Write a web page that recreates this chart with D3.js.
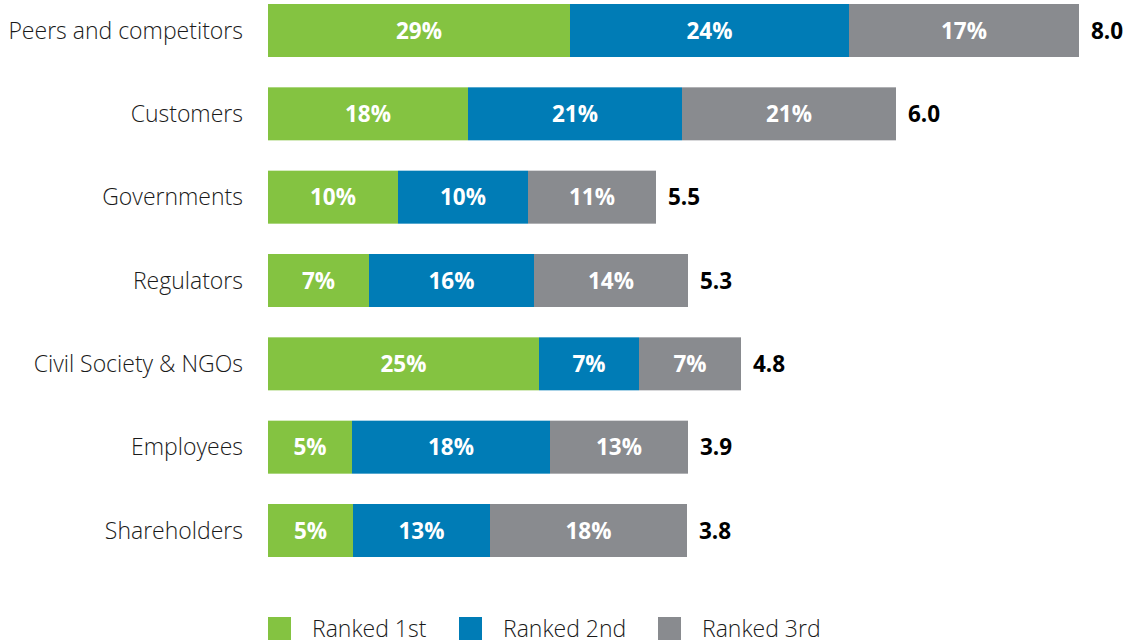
<!DOCTYPE html>
<html>
<head>
<meta charset="utf-8">
<script src="https://cdn.jsdelivr.net/npm/d3@7"></script>
<style>
  html, body { margin: 0; padding: 0; background: #fff; }
  svg { display: block; font-family: "Open Sans", "Noto Sans", sans-serif; }
</style>
</head>
<body>
<svg id="chart" width="1135" height="644"></svg>
<script>
// ---- data ----
const categories = ["Peers and competitors", "Customers", "Governments", "Regulators", "Civil Society & NGOs", "Employees", "Shareholders"];
const seriesNames = ["Ranked 1st", "Ranked 2nd", "Ranked 3rd"];
// displayed percentage labels
const ranked1stPct = [29, 18, 10, 7, 25, 5, 5];
const ranked2ndPct = [24, 21, 10, 16, 7, 18, 13];
const ranked3rdPct = [17, 21, 11, 14, 7, 13, 18];
// segment lengths as drawn in the reference (chart units)
const ranked1stLen = [30.2, 20.0, 13.0, 10.1, 27.1, 8.4, 8.5];
const ranked2ndLen = [27.9, 21.4, 13.0, 16.5, 10.0, 19.8, 13.7];
const ranked3rdLen = [23.0, 21.4, 12.8, 15.4, 10.2, 13.8, 19.7];
// overall score
const scores = [8.0, 6.0, 5.5, 5.3, 4.8, 3.9, 3.8];
const colors = ["#84c341", "#007cb6", "#898b8f"];

// ---- build ----
const rows = categories.map((c, i) => ({
  cat: c,
  lens: [ranked1stLen[i], ranked2ndLen[i], ranked3rdLen[i]],
  pcts: [ranked1stPct[i], ranked2ndPct[i], ranked3rdPct[i]],
  score: scores[i]
}));

const svg = d3.select("#chart");
const x = d3.scaleLinear().domain([0, 100]).range([268, 1268]);
const y = d3.scaleBand().domain(categories).range([4, 557]).paddingInner(0.364).paddingOuter(0);

const g = svg.append("g");

rows.forEach(r => {
  let acc = 0;
  r.segs = r.lens.map((l, k) => {
    const s = { x0: acc, x1: acc + l, pct: r.pcts[k], k };
    acc += l;
    return s;
  });
  r.total = acc;
});

const rowG = g.selectAll("g.row").data(rows).join("g").attr("class", "row")
  .attr("transform", d => `translate(0,${y(d.cat)})`);

rowG.selectAll("rect").data(d => d.segs).join("rect")
  .attr("x", d => x(d.x0))
  .attr("width", d => x(d.x1) - x(d.x0))
  .attr("y", 0)
  .attr("height", y.bandwidth())
  .attr("fill", d => colors[d.k]);

rowG.selectAll("text.pct").data(d => d.segs).join("text").attr("class", "pct")
  .attr("x", d => (x(d.x0) + x(d.x1)) / 2)
  .attr("y", y.bandwidth() / 2)
  .attr("dy", "0.36em")
  .attr("text-anchor", "middle")
  .attr("fill", "#fff")
  .attr("font-weight", 700)
  .attr("font-size", "22.5px")
  .text(d => d.pct + "%");

rowG.append("text")
  .attr("x", d => x(d.total) + 12)
  .attr("y", y.bandwidth() / 2)
  .attr("dy", "0.36em")
  .attr("fill", "#000")
  .attr("font-weight", 700)
  .attr("font-size", "22.5px")
  .text(d => d3.format(".1f")(d.score));

rowG.append("text")
  .attr("x", 243)
  .attr("y", y.bandwidth() / 2)
  .attr("dy", "0.36em")
  .attr("text-anchor", "end")
  .attr("fill", "#1a1a1a")
  .attr("font-weight", 300)
  .attr("font-size", "23px")
  .text(d => d.cat);

// ---- legend ----
const legendX = [268, 459, 658];
const leg = svg.append("g").selectAll("g").data(seriesNames).join("g")
  .attr("transform", (d, i) => `translate(${legendX[i]},617)`);
leg.append("rect").attr("width", 23).attr("height", 23).attr("fill", (d, i) => colors[i]);
leg.append("text").attr("x", 44).attr("y", 20)
  .attr("fill", "#1a1a1a").attr("font-weight", 300).attr("font-size", "23px")
  .text(d => d);
</script>
</body>
</html>
